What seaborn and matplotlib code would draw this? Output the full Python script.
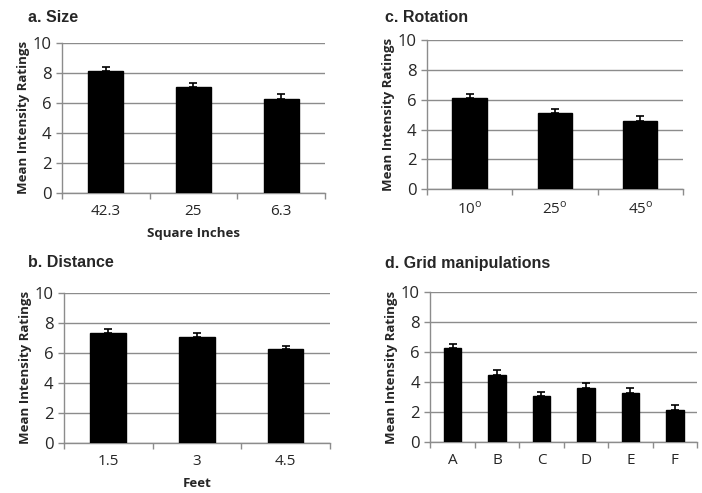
import numpy as np
import pandas as pd
import matplotlib
matplotlib.use('Agg')
import matplotlib.pyplot as plt
import seaborn as sns

# valores
size_labels = ['42.3', '25', '6.3']
size_means = [8.1, 7.05, 6.28]
size_err = [0.27, 0.27, 0.3]

rot_labels = ['10$^{\\mathregular{o}}$', '25$^{\\mathregular{o}}$', '45$^{\\mathregular{o}}$']
rot_means = [6.08, 5.1, 4.6]
rot_err = [0.3, 0.28, 0.29]

dist_labels = ['1.5', '3', '4.5']
dist_means = [7.33, 7.07, 6.22]
dist_err = [0.25, 0.24, 0.25]

grid_labels = ['A', 'B', 'C', 'D', 'E', 'F']
grid_means = [6.28, 4.49, 3.05, 3.63, 3.25, 2.15]
grid_err = [0.27, 0.29, 0.27, 0.31, 0.33, 0.33]

sns.set_style('white')
plt.rcParams['font.family'] = ['Open Sans', 'DejaVu Sans']

fig = plt.figure(figsize=(7.02, 4.93), dpi=100)

panels = [
    ('a. Size', size_labels, size_means, size_err, 'Square Inches',
     [0.088, 0.609, 0.375, 0.304], (0.04, 0.965)),
    ('c. Rotation', rot_labels, rot_means, rot_err, None,
     [0.608, 0.616, 0.365, 0.303], (0.548, 0.965)),
    ('b. Distance', dist_labels, dist_means, dist_err, 'Feet',
     [0.091, 0.102, 0.379, 0.304], (0.04, 0.468)),
    ('d. Grid manipulations', grid_labels, grid_means, grid_err, None,
     [0.613, 0.103, 0.38, 0.305], (0.548, 0.465)),
]

grey = '#8c8c8c'

for title, labels, means, errs, xlabel, pos, tpos in panels:
    ax = fig.add_axes(pos)
    df = pd.DataFrame({'cat': labels, 'val': means})
    ax.set_axisbelow(True)
    ax.yaxis.grid(True, color=grey, lw=1)
    sns.barplot(data=df, x='cat', y='val', color='black', width=0.4,
                edgecolor='black', saturation=1, ax=ax, zorder=3)
    n = len(labels)
    ax.errorbar(np.arange(n), means, yerr=[np.zeros(n), errs], fmt='none',
                ecolor='black', elinewidth=1.2, capsize=3, capthick=1.2, zorder=4)
    ax.set_ylim(0, 10)
    ax.set_xlim(-0.5, n - 0.5)
    ax.set_yticks([0, 2, 4, 6, 8, 10])
    ax.set_xticks(np.arange(-0.5, n), minor=True)
    ax.tick_params(axis='x', which='major', length=0, labelsize=11, pad=8)
    ax.tick_params(axis='x', which='minor', length=4, color=grey, width=1,
                   direction='out', bottom=True)
    ax.tick_params(axis='y', length=4, color=grey, width=1, direction='out',
                   labelsize=12, pad=3.5, left=True)
    for s in ['top', 'right']:
        ax.spines[s].set_visible(False)
    for s in ['left', 'bottom']:
        ax.spines[s].set_color(grey)
        ax.spines[s].set_linewidth(1)
    ax.set_ylabel('Mean Intensity Ratings', fontsize=9.5, fontweight='bold', labelpad=2)
    if xlabel:
        ax.set_xlabel(xlabel, fontsize=9.5, fontweight='bold', labelpad=6)
    else:
        ax.set_xlabel('')
    fig.text(tpos[0], tpos[1], title, fontsize=11.5, fontweight='bold',
             family='Liberation Sans', ha='left', va='center')

fig.savefig('out.png', dpi=100)
